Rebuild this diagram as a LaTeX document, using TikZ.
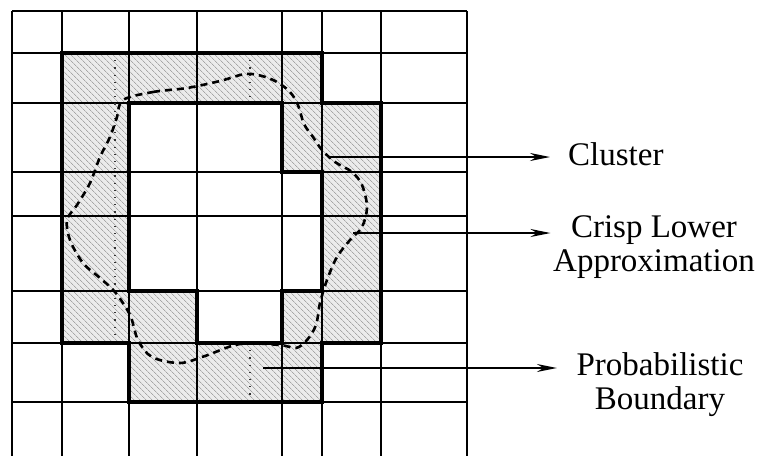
\documentclass[tikz,border=0pt]{standalone}
\usepackage{fontspec}
\setmainfont{Liberation Serif}
\usetikzlibrary{arrows.meta,patterns.meta}

\tikzset{
    gridline/.style={line width=1.5pt},
    boundary/.style={line width=4.5pt, line join=miter},
    hatched/.style={even odd rule, preaction={fill=gray!16, even odd rule}, pattern={Lines[angle=-45, distance=4pt, line width=0.8pt]}, pattern color=gray!70},
    hidden/.style={line width=1.2pt, dash pattern=on 1.2pt off 6pt, black!80},
    clustercurve/.style={line width=2.6pt, dash pattern=on 7pt off 5pt},
    pointer/.style={-{Stealth[length=20pt, width=8pt]}, line width=1.5pt},
    lbl/.style={inner sep=0pt, align=center, font=\fontsize{33}{34}\selectfont}
}

\begin{document}
\begin{tikzpicture}[x=1pt, y=-1pt]
    \useasboundingbox (0,0) rectangle (761,456);

    % column and row lines of the grid
    \foreach \n/\v in {0/12, 1/62, 2/129, 3/197, 4/282, 5/322, 6/381, 7/467}
        \coordinate (x\n) at (\v,0);
    \foreach \n/\v in {0/11, 1/53, 2/103, 3/172, 4/216, 5/291, 6/343, 7/402, 8/456}
        \coordinate (y\n) at (0,\v);

    % probabilistic boundary cells
    \path[hatched]
        (x1 |- y1) -- (x5 |- y1) -- (x5 |- y2) -- (x6 |- y2) -- (x6 |- y6) -- (x5 |- y6)
        -- (x5 |- y7) -- (x2 |- y7) -- (x2 |- y6) -- (x1 |- y6) -- cycle
        (x2 |- y2) -- (x4 |- y2) -- (x4 |- y3) -- (x5 |- y3) -- (x5 |- y5) -- (x4 |- y5)
        -- (x4 |- y6) -- (x3 |- y6) -- (x3 |- y5) -- (x2 |- y5) -- cycle;

    \foreach \n in {0,...,7}
        \draw[gridline] (x\n |- y0) -- (x\n |- y8);
    \foreach \n in {0,...,7}
        \draw[gridline] (x0 |- y\n) -- (x7 |- y\n);

    % faint split lines inside the cells
    \draw[hidden] (115,53) -- (115,343);
    \draw[hidden] (250,53) -- (250,103);
    \draw[hidden] (250,343) -- (250,402);

    % outer and inner borders
    \draw[boundary]
        (x1 |- y1) -- (x5 |- y1) -- (x5 |- y2) -- (x6 |- y2) -- (x6 |- y6) -- (x5 |- y6)
        -- (x5 |- y7) -- (x2 |- y7) -- (x2 |- y6) -- (x1 |- y6) -- cycle;
    \draw[boundary]
        (x2 |- y2) -- (x4 |- y2) -- (x4 |- y3) -- (x5 |- y3) -- (x5 |- y5) -- (x4 |- y5)
        -- (x4 |- y6) -- (x3 |- y6) -- (x3 |- y5) -- (x2 |- y5) -- cycle;

    % the cluster
    \draw[clustercurve] plot[smooth cycle, tension=0.55] coordinates {
        (123,100) (153,92) (187,88) (220,81) (245,74) (262,76) (277,82) (290,92)
        (298,105) (304,124) (313,137) (322,150) (335,162) (352,172) (362,185) (367,207)
        (362,227) (350,240) (337,257) (327,280) (320,303) (316,325) (307,340) (296,348)
        (280,345) (240,344) (205,356) (180,363) (152,357) (138,340) (130,315) (115,292)
        (100,278) (83,263) (70,240) (67,220) (77,205) (90,183) (100,157) (110,137) (117,117)};

    % labels
    \node[lbl, anchor=base west] (cluster) at (568,165) {Cluster};
    \node[lbl, anchor=north] (crisp) at (654,215) {Crisp Lower\\Approximation};
    \node[lbl, anchor=north] (prob) at (660,352) {Probabilistic\\Boundary};

    \coordinate (clusterpt) at (328,157);
    \coordinate (crisppt) at (353,233);
    \coordinate (probpt) at (263,368);

    \draw[pointer, shorten >=18pt] (clusterpt) -- (clusterpt -| cluster.west);
    \draw[pointer, shorten >=2.5pt] (crisppt) -- (crisppt -| crisp.west);
    \draw[pointer, shorten >=19.5pt] (probpt) -- (probpt -| prob.west);
\end{tikzpicture}
\end{document}
